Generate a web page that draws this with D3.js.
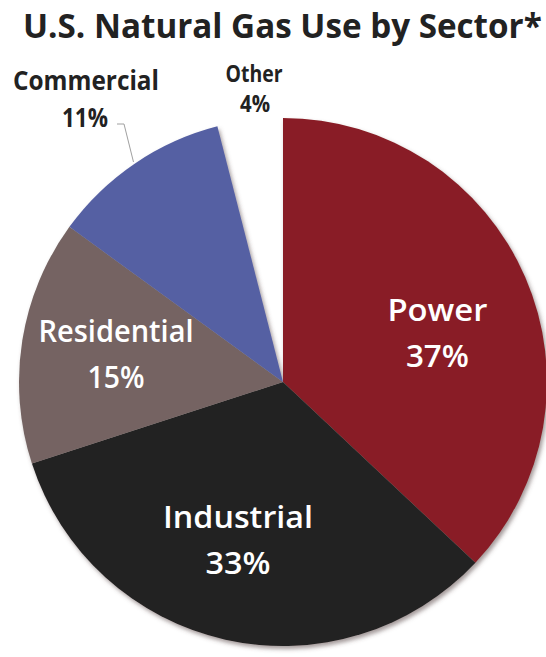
<!DOCTYPE html>
<html>
<head>
<meta charset="utf-8">
<script src="https://cdn.jsdelivr.net/npm/d3@7"></script>
<style>
  html, body { margin: 0; padding: 0; background: #fff; }
  svg { display: block; }
</style>
</head>
<body>
<svg id="chart" width="546" height="657"></svg>
<script>
// ---- Data ----
const title = "U.S. Natural Gas Use by Sector*";
const sectors = ["Power", "Industrial", "Residential", "Commercial", "Other"];
const shares = [37, 33, 15, 11, 4];
const sectorColors = ["#891d25", "#222222", "#746462", "#5560a3", "#ffffff"];

// ---- Layout ----
const W = 546, H = 657;
const cx = 283, cy = 382, R = 264;
const font = "'Open Sans', 'DejaVu Sans', sans-serif";

const svg = d3.select("#chart");

const defs = svg.append("defs");
const filt = defs.append("filter").attr("id", "shadow")
  .attr("x", "-10%").attr("y", "-10%").attr("width", "120%").attr("height", "120%");
filt.append("feDropShadow").attr("dx", 2).attr("dy", 3).attr("stdDeviation", 2.2)
  .attr("flood-color", "#5a4a4a").attr("flood-opacity", 0.55);

// Title (scaled horizontally to fit the reference width)
const titleText = svg.append("text")
  .attr("x", 0).attr("y", 0)
  .attr("font-family", font).attr("font-weight", 700).attr("font-size", 34)
  .attr("fill", "#222")
  .text(title);
const tw = titleText.node().getComputedTextLength();
titleText.attr("transform", `translate(23,38) scale(${519 / tw},1)`);

const data = sectors.map((s, i) => ({ name: s, value: shares[i], color: sectorColors[i] }));

const pie = d3.pie().sort(null).value(d => d.value);
const arcs = pie(data);
const arc = d3.arc().innerRadius(0).outerRadius(R);

const g = svg.append("g").attr("transform", `translate(${cx},${cy})`);

// slices with soft drop shadow (Other is white / invisible)
g.append("g").attr("filter", "url(#shadow)")
  .selectAll("path")
  .data(arcs.filter(a => a.data.name !== "Other"))
  .join("path")
  .attr("d", arc)
  .attr("fill", d => d.data.color);

// Inside labels
const labelArc = d3.arc().innerRadius(165).outerRadius(165);
const nudge = { Power: [3, 17], Industrial: [-9, -3], Residential: [-4, -2] };
const widths = {
  Power: [100, 63], Industrial: [150, 65], Residential: [155, 57]
};
const inside = arcs.filter(a => nudge[a.data.name]);
inside.forEach(a => {
  const [x0, y0] = labelArc.centroid(a);
  const [nx, ny] = nudge[a.data.name];
  const x = x0 + nx, y = y0 + ny;
  const t = g.append("g").attr("transform", `translate(${x},${y})`);
  t.append("text")
    .attr("x", 0).attr("y", -12)
    .attr("text-anchor", "middle")
    .attr("textLength", widths[a.data.name][0]).attr("lengthAdjust", "spacingAndGlyphs")
    .attr("font-family", font).attr("font-weight", 600).attr("font-size", 30)
    .attr("fill", "#fff")
    .text(a.data.name);
  t.append("text")
    .attr("x", 0).attr("y", 34)
    .attr("text-anchor", "middle")
    .attr("textLength", widths[a.data.name][1]).attr("lengthAdjust", "spacingAndGlyphs")
    .attr("font-family", font).attr("font-weight", 600).attr("font-size", 30)
    .attr("fill", "#fff")
    .text(a.data.value + "%");
});

// Outside labels
const com = arcs.find(a => a.data.name === "Commercial");
const oth = arcs.find(a => a.data.name === "Other");

const outerPt = (a, r) => {
  const ang = (a.startAngle + a.endAngle) / 2;
  return [r * Math.sin(ang), -r * Math.cos(ang)];
};

// Commercial leader line
const cp = outerPt(com, R + 2);
g.append("polyline")
  .attr("points", [[117 - cx, 124 - cy], [124 - cx, 124 - cy], cp].map(p => p.join(",")).join(" "))
  .attr("fill", "none").attr("stroke", "#a0a0a0").attr("stroke-width", 1);

svg.append("text")
  .attr("x", 86).attr("y", 90).attr("text-anchor", "middle")
  .attr("textLength", 146).attr("lengthAdjust", "spacingAndGlyphs")
  .attr("font-family", font).attr("font-weight", 700).attr("font-size", 26)
  .attr("fill", "#222").text(com.data.name);
svg.append("text")
  .attr("x", 85).attr("y", 127).attr("text-anchor", "middle")
  .attr("textLength", 46).attr("lengthAdjust", "spacingAndGlyphs")
  .attr("font-family", font).attr("font-weight", 700).attr("font-size", 26)
  .attr("fill", "#222").text(com.data.value + "%");

// Other
svg.append("text")
  .attr("x", 254).attr("y", 82).attr("text-anchor", "middle")
  .attr("textLength", 57).attr("lengthAdjust", "spacingAndGlyphs")
  .attr("font-family", font).attr("font-weight", 700).attr("font-size", 23)
  .attr("fill", "#222").text(oth.data.name);
svg.append("text")
  .attr("x", 255).attr("y", 112).attr("text-anchor", "middle")
  .attr("textLength", 30).attr("lengthAdjust", "spacingAndGlyphs")
  .attr("font-family", font).attr("font-weight", 700).attr("font-size", 23)
  .attr("fill", "#222").text(oth.data.value + "%");
</script>
</body>
</html>
